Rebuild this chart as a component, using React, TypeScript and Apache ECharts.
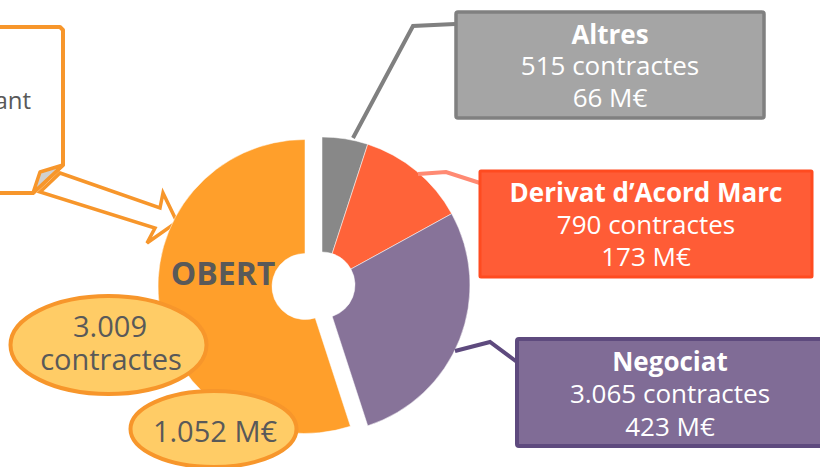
import React, { useEffect, useRef } from "react";
import * as echarts from "echarts";

const categories = ["Altres", "Derivat d’Acord Marc", "Negociat", "Obert"];
const sliceShares = [5, 12, 28, 55];
const contracts = [515, 790, 3065, 3009];
const amountsMEUR = [66, 173, 423, 1052];
const sliceColors = ["#888888", "#FF6339", "#877399", "#FF9F2B"];

const fmt = (v: number) => v.toString().replace(/\B(?=(\d{3})+(?!\d))/g, ".");

const FONT = "'Open Sans', 'Noto Sans', sans-serif";
const ORANGE_LINE = "#F7962B";

function boxText(cx: number, cy: number, gap: number, i: number, size: number, z: number) {
  const lines = [categories[i], `${fmt(contracts[i])} contractes`, `${fmt(amountsMEUR[i])} M€`];
  return lines.map((t, k) => ({
    type: "text",
    x: cx,
    y: cy + (k - 1) * gap,
    z,
    style: {
      text: t,
      align: "center",
      verticalAlign: "middle",
      fill: "#ffffff",
      fontFamily: FONT,
      fontSize: size,
      fontWeight: k === 0 ? "bold" : "normal",
    },
  }));
}

export default function App() {
  const ref = useRef<HTMLDivElement>(null);
  useEffect(() => {
    if (!ref.current) return;
    const chart = echarts.init(ref.current, undefined, { renderer: "svg" });
    const mkData = (visibleIdx: (i: number) => boolean) =>
      categories.map((n, i) => ({
        name: n,
        value: sliceShares[i],
        itemStyle: visibleIdx(i)
          ? { color: sliceColors[i], borderColor: "rgba(255,255,255,0.5)", borderWidth: 1 }
          : { color: "rgba(0,0,0,0)", borderWidth: 0 },
      }));
    const common = {
      type: "pie",
      startAngle: 90,
      clockwise: true,
      silent: true,
      avoidLabelOverlap: false,
      label: { show: false },
      labelLine: { show: false },
      emphasis: { disabled: true },
      z: 2,
    };
    const FG = 100;
    const BG = 0;
    chart.setOption({
      animation: false,
      backgroundColor: "#ffffff",
      series: [
        { ...common, name: "rest", center: [322, 285], radius: [33, 148], data: mkData((i) => i !== 3) },
        { ...common, name: "obert", center: [305, 286.5], radius: [33, 147], data: mkData((i) => i === 3) },
      ],
      graphic: [
        // arrow (behind pie)
        {
          type: "polygon",
          z: BG,
          shape: { points: [[60, 173], [160, 208], [163, 193], [177, 222], [147, 243], [155, 228], [40, 192]] },
          style: { fill: "#ffffff", stroke: ORANGE_LINE, lineWidth: 3.5, lineJoin: "miter" },
        },
        // left callout box
        {
          type: "polygon",
          z: BG + 1,
          shape: { points: [[-10, 27], [60, 27], [63, 30], [63, 165], [33, 193], [-10, 193]] },
          style: { fill: "#ffffff", stroke: ORANGE_LINE, lineWidth: 4, lineJoin: "round" },
        },
        {
          type: "polygon",
          z: BG + 2,
          shape: { points: [[63, 165], [40, 172], [33, 193]] },
          style: { fill: "#D0D0D0", stroke: ORANGE_LINE, lineWidth: 3.5, lineJoin: "round" },
        },
        {
          type: "text",
          z: BG + 3,
          x: 31,
          y: 99,
          style: { text: "ant", align: "right", verticalAlign: "middle", fill: "#595959", fontFamily: FONT, fontSize: 24 },
        },
        // leader lines
        {
          type: "polyline",
          z: FG,
          shape: { points: [[455, 24], [413, 26], [353, 138]] },
          style: { stroke: "#808080", lineWidth: 4, fill: "none" },
        },
        {
          type: "polyline",
          z: FG,
          shape: { points: [[480, 183], [446, 172], [418, 174]] },
          style: { stroke: "#FF8A73", lineWidth: 4, fill: "none" },
        },
        {
          type: "polyline",
          z: FG,
          shape: { points: [[517, 362], [490, 342], [455, 351]] },
          style: { stroke: "#5E4A7E", lineWidth: 4, fill: "none" },
        },
        // boxes
        {
          type: "rect",
          z: FG,
          shape: { x: 456, y: 12, width: 308, height: 106, r: 2 },
          style: { fill: "#A5A5A5", stroke: "#808080", lineWidth: 3.5 },
        },
        ...boxText(610, 65, 31.5, 0, 26, FG + 1),
        {
          type: "rect",
          z: FG,
          shape: { x: 480, y: 171, width: 332, height: 106, r: 1 },
          style: { fill: "#FF5C36", stroke: "#FF4B20", lineWidth: 3 },
        },
        ...boxText(646, 223.5, 32, 1, 26, FG + 1),
        {
          type: "rect",
          z: FG,
          shape: { x: 517, y: 339, width: 306, height: 107, r: 2 },
          style: { fill: "#806C96", stroke: "#5E4A7E", lineWidth: 4 },
        },
        ...boxText(670, 393, 32.5, 2, 26, FG + 1),
        // OBERT label
        {
          type: "text",
          z: FG,
          x: 223,
          y: 272,
          style: {
            text: categories[3].toUpperCase(),
            align: "center",
            verticalAlign: "middle",
            fill: "#595959",
            fontFamily: FONT,
            fontSize: 32,
            fontWeight: "bold",
          },
        },
        // ellipses
        {
          type: "ellipse",
          z: FG,
          shape: { cx: 108.5, cy: 345, rx: 98, ry: 49 },
          style: { fill: "#FFCC66", stroke: ORANGE_LINE, lineWidth: 4 },
        },
        {
          type: "text",
          z: FG + 1,
          x: 110,
          y: 325,
          style: {
            text: fmt(contracts[3]),
            align: "center",
            verticalAlign: "middle",
            fill: "#595959",
            fontFamily: FONT,
            fontSize: 29,
          },
        },
        {
          type: "text",
          z: FG + 1,
          x: 111,
          y: 358,
          style: {
            text: "contractes",
            align: "center",
            verticalAlign: "middle",
            fill: "#595959",
            fontFamily: FONT,
            fontSize: 29,
          },
        },
        {
          type: "ellipse",
          z: FG,
          shape: { cx: 213.5, cy: 429, rx: 83, ry: 38 },
          style: { fill: "#FFCC66", stroke: ORANGE_LINE, lineWidth: 4 },
        },
        {
          type: "text",
          z: FG + 1,
          x: 215,
          y: 430,
          style: {
            text: `${fmt(amountsMEUR[3])} M€`,
            align: "center",
            verticalAlign: "middle",
            fill: "#595959",
            fontFamily: FONT,
            fontSize: 29,
          },
        },
      ],
    });
    return () => chart.dispose();
  }, []);
  return (
    <div
      ref={ref}
      style={{ position: "absolute", left: 0, top: 0, width: 820, height: 467 }}
    />
  );
}
